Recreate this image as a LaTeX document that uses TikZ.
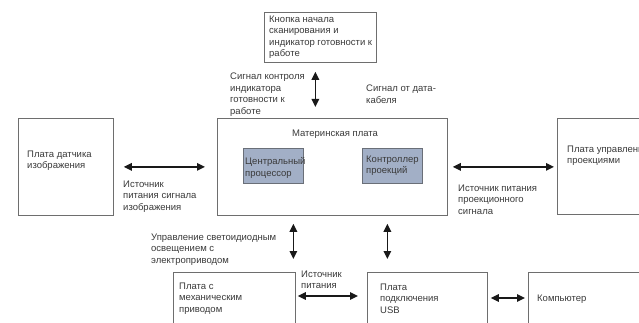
\documentclass[tikz,border=0pt]{standalone}
\usepackage{fontspec}
\setmainfont{Liberation Sans}
\usetikzlibrary{arrows.meta,calc}
\definecolor{linegray}{HTML}{6E6E6E}
\definecolor{txtgray}{HTML}{3A3A3A}
\definecolor{chipfill}{HTML}{A2AFC6}
\definecolor{chipline}{HTML}{6A6F78}
\begin{document}
\begin{tikzpicture}[x=1pt,y=-1pt,
  box/.style={draw=linegray, line width=0.8pt, fill=white, inner sep=0, anchor=north west},
  chip/.style={draw=chipline, line width=0.8pt, fill=chipfill, inner sep=0, anchor=north west},
  lbl/.style={font=\fontsize{9.5}{11.5}\selectfont, text=txtgray, align=left, inner sep=0, anchor=north west},
  dbl/.style={line width=1.4pt, draw=black!90, {Triangle[length=8pt,width=7.5pt]}-{Triangle[length=8pt,width=7.5pt]}}]
\useasboundingbox (0,0) rectangle (639,323);
\clip (0,0) rectangle (639,323);
\fill[white] (0,0) rectangle (639,323);

% boxes
\node[box, minimum width=112, minimum height=50] (top) at (264,12) {};
\node[box, minimum width=230, minimum height=97] (mb) at (217,118) {};
\node[chip, minimum width=60, minimum height=35] (cpu) at (243,148) {};
\node[chip, minimum width=60, minimum height=35] (ctrl) at (362,148) {};
\node[box, minimum width=95, minimum height=97] (sensor) at (18,118) {};
\node[box, minimum width=110, minimum height=96] (proj) at (557,118) {};
\node[box, minimum width=122, minimum height=70] (mech) at (173,272) {};
\node[box, minimum width=120, minimum height=70] (usb) at (367,272) {};
\node[box, minimum width=120, minimum height=70] (comp) at (528,272) {};

% texts
\node[lbl] (ttop) at (269,15.7) {Кнопка начала\\сканирования и\\индикатор готовности к\\работе};
\node[lbl] (tsig) at (230,72.7) {Сигнал контроля\\индикатора\\готовности к\\работе};
\node[lbl] (tdata) at (366,84.7) {Сигнал от дата-\\кабеля};
\node[lbl, anchor=north] (tmb) at (335,129.7) {Материнская плата};
\node[lbl] (tcpu) at (245,157.7) {Центральный\\процессор};
\node[lbl] (tctrl) at (366,155.7) {Контроллер\\проекций};
\node[lbl] (tsensor) at (27,150.7) {Плата датчика\\изображения};
\node[lbl] (tleft) at (123,180.7) {Источник\\питания сигнала\\изображения};
\node[lbl] (tright) at (458,184.7) {Источник питания\\проекционного\\сигнала};
\node[lbl] (tproj) at (567,145.7) {Плата управления\\проекциями};
\node[lbl] (tled) at (151,233.7) {Управление светоидиодным\\освещением с\\электроприводом};
\node[lbl] (tmech) at (179,282.7) {Плата с\\механическим\\приводом};
\node[lbl] (tpow) at (301,270.7) {Источник\\питания};
\node[lbl] (tusb) at (380,283.7) {Плата\\подключения\\USB};
\node[lbl] (tcomp) at (537,294.7) {Компьютер};

% connectors
\draw[dbl] ([shift={(-5,9)}]top.south) -- ([shift={(-17,-11)}]mb.north);
\draw[dbl] ($(sensor.east |- mb.west)+(10,0)$) -- ($(mb.west)+(-12,0)$);
\draw[dbl] ($(mb.east)+(5,0)$) -- ($(proj.west |- mb.east)+(-3,0)$);
\draw[dbl] ($(mb.south)+(-39,8)$) -- ($(mb.south |- mech.north)+(-39,-13)$);
\draw[dbl] ($(mb.south)+(55,8)$) -- ($(mb.south |- usb.north)+(55,-13)$);
\draw[dbl] ([shift={(2,24)}]mech.north east) -- ([shift={(-9,24)}]usb.north west);
\draw[dbl] ([shift={(3,26)}]usb.north east) -- ([shift={(-3,26)}]comp.north west);
\end{tikzpicture}
\end{document}
